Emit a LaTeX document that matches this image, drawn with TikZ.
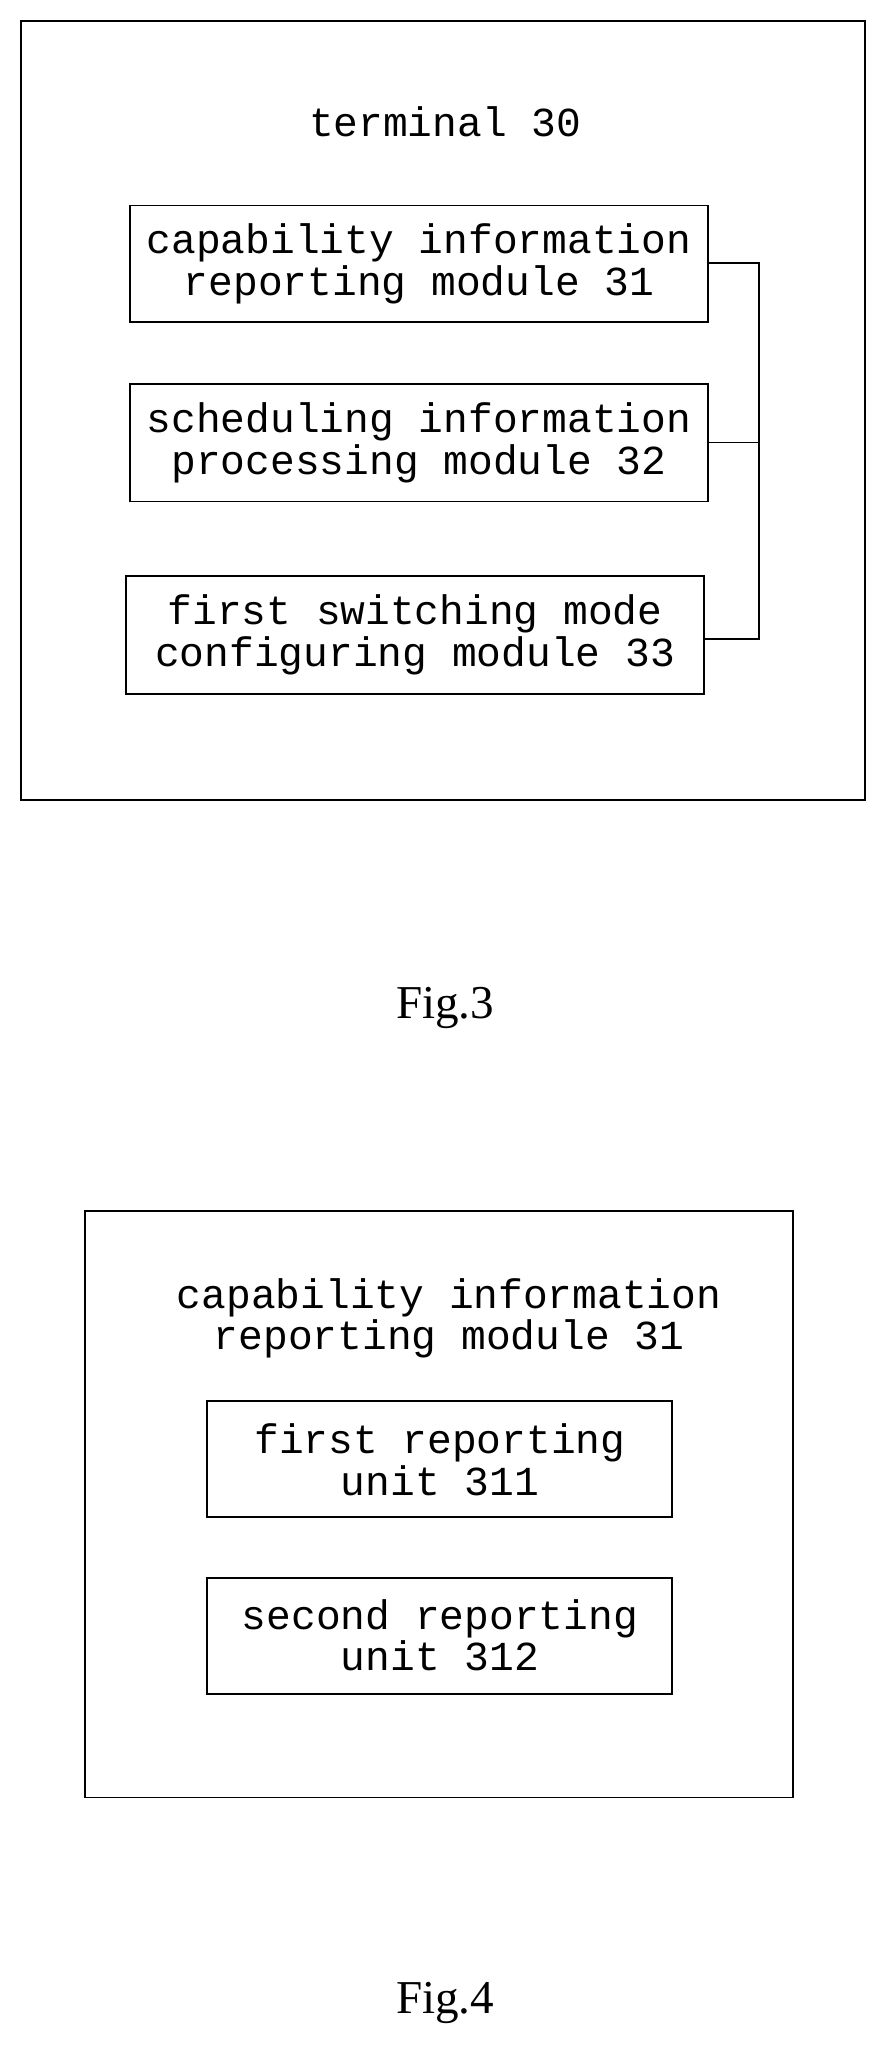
\documentclass[tikz,border=0pt]{standalone}
\usepackage{fontspec}
\setmainfont{Liberation Serif}
\setmonofont{Liberation Mono}
\begin{document}
\begin{tikzpicture}[x=1pt,y=-1pt,
 box/.style={draw,line width=1.4pt},
 mt/.style={font=\fontsize{31.5}{32}\selectfont\ttfamily,align=center},
 figcap/.style={font=\fontsize{36}{40}\selectfont}]
\useasboundingbox (0,0) rectangle (680,1575);
\draw[box] (16,16) rectangle (661,611);
\node[mt] (t30) at (340,93) {terminal 30};
\draw[box] (99,157) rectangle (541,246);
\node[mt] (m31) at (320,201.5) {capability information\\reporting module 31};
\draw[box] (99,293) rectangle (541,383);
\node[mt] (m32) at (320,338) {scheduling information\\processing module 32};
\draw[box] (96,440) rectangle (538,530);
\node[mt] (m33) at (317,485) {first switching mode\\configuring module 33};
\coordinate (a) at (541,201); \coordinate (b) at (580,201);
\coordinate (c) at (580,488); \coordinate (d) at (538,488);
\coordinate (e) at (541,338); \coordinate (f) at (580,338);
\draw[line width=1.4pt] (a) -- (b) -- (c) -- (d);
\draw[line width=1.4pt] (e) -- (f);
\node[figcap] (f3) at (340,770) {Fig.3};
\draw[box] (65,925) rectangle (606,1373);
\node[mt] (t31) at (343,1007) {capability information\\reporting module 31};
\draw[box] (158,1070) rectangle (513,1159);
\node[mt] (u311) at (336,1115) {first reporting\\unit 311};
\draw[box] (158,1205) rectangle (513,1294);
\node[mt] (u312) at (336,1249) {second reporting\\unit 312};
\node[figcap] (f4) at (340,1530) {Fig.4};
\end{tikzpicture}
\end{document}
